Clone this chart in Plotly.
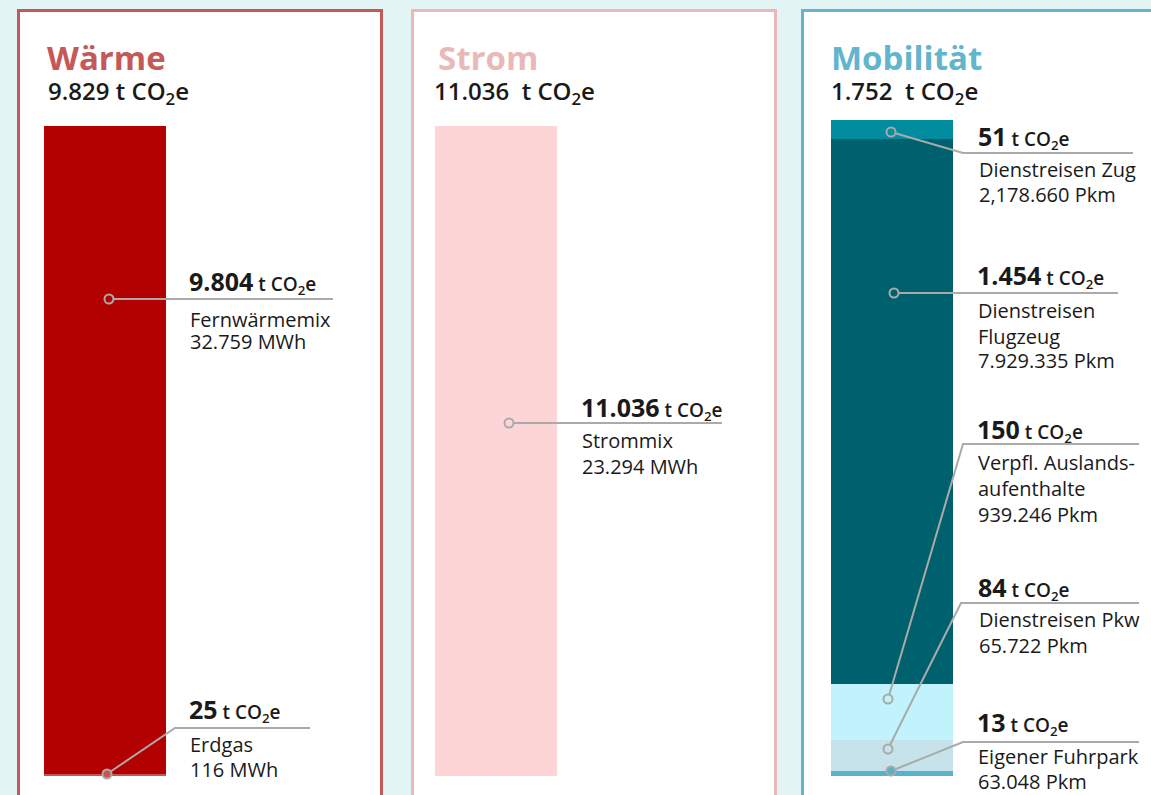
import plotly.graph_objects as go

# ---------------- data ----------------
panel_titles = ["Wärme", "Strom", "Mobilität"]

waerme_sources = ["Erdgas", "Fernwärmemix"]
waerme_values = [25, 9804]
waerme_activity = ["116 MWh", "32.759 MWh"]

strom_sources = ["Strommix"]
strom_values = [11036]
strom_activity = ["23.294 MWh"]

mob_sources = ["Eigener Fuhrpark", "Dienstreisen Pkw", "Verpfl. Auslands-|aufenthalte",
               "Dienstreisen|Flugzeug", "Dienstreisen Zug"]
mob_values = [13, 84, 150, 1454, 51]
mob_activity = ["63.048 Pkm", "65.722 Pkm", "939.246 Pkm", "7.929.335 Pkm", "2,178.660 Pkm"]

# ---------------- styles ----------------
W, H = 1151, 795
BG = "#e3f4f5"
FONT = "Open Sans"
TXT = "#1a1a1a"
LEADER = "#aaaaaa"

panel_border = ["#c55858", "#e9b9b9", "#62b5cd"]
title_color = ["#c55858", "#e9b9b9", "#62b5cd"]
waerme_colors = ["#c45656", "#b30000"]
strom_colors = ["#fdd5d6"]
mob_colors = ["#5ab2c9", "#c6e3ec", "#c0f3fb", "#00616e", "#008b9f"]


def fx(x):
    return x / W


def fy(y):
    return 1 - y / H


def de(n):
    return f"{n:,}".replace(",", ".")


fig = go.Figure()

# panels (pixel boxes)
panels_px = [(18.5, 381.5), (412.5, 775.5), (802.5, 1165)]
for (x0, x1), col in zip(panels_px, panel_border):
    fig.add_shape(type="rect", xref="paper", yref="paper",
                  x0=fx(x0), x1=fx(x1), y0=fy(10.5), y1=fy(810),
                  line=dict(color=col, width=3), fillcolor="white", layer="below")

# bar subplot domains (pixels)
bar_boxes = [(44, 166, 126, 776), (435, 557, 126, 776), (831, 953, 120, 776)]
groups = [
    (waerme_sources, waerme_values, waerme_colors),
    (strom_sources, strom_values, strom_colors),
    (mob_sources, mob_values, mob_colors),
]

for i, ((srcs, vals, cols), (bx0, bx1, by0, by1)) in enumerate(zip(groups, bar_boxes)):
    ax = "" if i == 0 else str(i + 1)
    for s, v, c in zip(srcs, vals, cols):
        fig.add_trace(go.Bar(x=[0], y=[v], width=1, marker=dict(color=c, line=dict(width=0)),
                             name=s.replace("|", " "), xaxis="x" + ax, yaxis="y" + ax,
                             showlegend=False, hoverinfo="name+y"))
    total = sum(vals)
    fig.layout["xaxis" + ax] = dict(domain=[fx(bx0), fx(bx1)], range=[-0.5, 0.5], visible=False,
                                    fixedrange=True)
    fig.layout["yaxis" + ax] = dict(domain=[fy(by1), fy(by0)], range=[0, total], visible=False,
                                    fixedrange=True)

# titles and totals
title_x = [45, 436, 829]
total_x = [46, 432, 829]
totals = [sum(waerme_values), sum(strom_values), sum(mob_values)]
gaps = [" ", "  ", "  "]
for t, tx, vx, tot, col, g in zip(panel_titles, title_x, total_x, totals, title_color, gaps):
    fig.add_annotation(x=fx(tx), y=fy(58), xref="paper", yref="paper", xanchor="left",
                       yanchor="middle", showarrow=False, text=f"<b>{t}</b>",
                       font=dict(family=FONT, size=33, color=col))
    fig.add_annotation(x=fx(vx), y=fy(92), xref="paper", yref="paper", xanchor="left",
                       yanchor="middle", showarrow=False,
                       text=f"{de(tot)}{g}t CO<sub>2</sub>e",
                       font=dict(family=FONT, size=24, color=TXT, weight=600))

# label layout: (circle x, circle y, elbow x, elbow y, line end x, label x, value y, line ys)
label_layout = {
    "Erdgas": (107, 774, 175, 728, 310, 187, 709, [744, 769]),
    "Fernwärmemix": (109, 299, None, None, 333, 187, 282, [319, 341]),
    "Strommix": (509, 423, None, None, 722, 579, 407, [440, 466]),
    "Eigener Fuhrpark": (891, 771, 963, 742, 1139, 975, 722, [756, 781]),
    "Dienstreisen Pkw": (888, 749, 961, 603, 1139, 976, 587, [619, 645]),
    "Verpfl. Auslands-|aufenthalte": (888, 699, 963, 444, 1139, 975, 429, [462, 488, 514]),
    "Dienstreisen|Flugzeug": (894, 293, None, None, 1118, 975, 276, [310, 336, 360]),
    "Dienstreisen Zug": (891, 132, 963, 153, 1133, 976, 137, [170, 195]),
}

all_labels = [
    (waerme_sources, waerme_values, waerme_activity, waerme_colors),
    (strom_sources, strom_values, strom_activity, strom_colors),
    (mob_sources, mob_values, mob_activity, mob_colors),
]

for srcs, vals, acts, cols in all_labels:
    for s, v, a, c in zip(srcs, vals, acts, cols):
        cx, cy, ex, ey, lx, tx, vy, lys = label_layout[s]
        if ex is None:
            path = f"M {fx(cx)},{fy(cy)} L {fx(lx)},{fy(cy)}"
        else:
            path = f"M {fx(cx)},{fy(cy)} L {fx(ex)},{fy(ey)} L {fx(lx)},{fy(ey)}"
        fig.add_shape(type="path", xref="paper", yref="paper", path=path,
                      line=dict(color=LEADER, width=2), layer="above")
        fig.add_shape(type="circle", xref="paper", yref="paper", xsizemode="pixel",
                      ysizemode="pixel", xanchor=fx(cx), yanchor=fy(cy),
                      x0=-4.5, x1=4.5, y0=-4.5, y1=4.5,
                      line=dict(color=LEADER, width=2), fillcolor=c, layer="above")
        fig.add_annotation(x=fx(tx), y=fy(vy), xref="paper", yref="paper", xanchor="left",
                           yanchor="middle", showarrow=False,
                           text=f"<b>{de(v)}</b><span style='font-size:19px'> t CO<sub>2</sub>e</span>",
                           font=dict(family=FONT, size=25, color=TXT, weight=600))
        lines = s.split("|") + [a]
        for ln, ly in zip(lines, lys):
            fig.add_annotation(x=fx(tx + 1), y=fy(ly), xref="paper", yref="paper",
                               xanchor="left", yanchor="middle", showarrow=False, text=ln,
                               font=dict(family=FONT, size=20, color=TXT))

fig.update_layout(width=W, height=H, margin=dict(l=0, r=0, t=0, b=0),
                  paper_bgcolor=BG, plot_bgcolor="rgba(0,0,0,0)", barmode="stack",
                  bargap=0, showlegend=False)

fig.write_html("out.html", config={"displayModeBar": False},
               post_script="document.body.style.margin='0';"
                           "document.body.style.overflow='hidden';"
                           "document.body.style.background='" + BG + "';")
